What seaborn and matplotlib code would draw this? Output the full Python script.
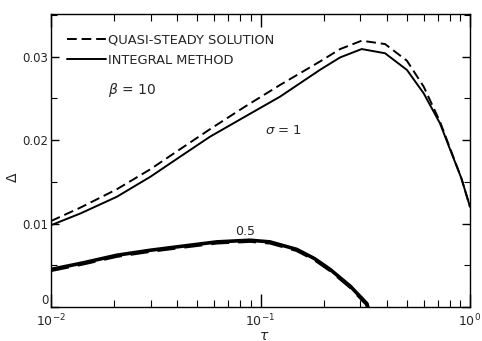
import numpy as np
import pandas as pd
import matplotlib
matplotlib.use("Agg")
import matplotlib.pyplot as plt
import matplotlib.ticker as mticker
import seaborn as sns

# ---- data ----
tau_s1 = [0.0100, 0.0138, 0.0206, 0.0298, 0.0413, 0.0574, 0.0843, 0.124,
          0.192, 0.240, 0.304, 0.393, 0.500, 0.601, 0.719, 0.832, 0.910, 1.0]
quasi_s1 = [0.0103, 0.0119, 0.0141, 0.0165, 0.0189, 0.0213, 0.0240, 0.0266,
            0.0294, 0.0309, 0.0319, 0.0315, 0.0295, 0.0264, 0.0222, 0.0180, 0.0154, 0.0120]
integ_s1 = [0.0098, 0.0112, 0.0132, 0.0156, 0.0180, 0.0204, 0.0228, 0.0252,
            0.0284, 0.0299, 0.0309, 0.0304, 0.0284, 0.0256, 0.0220, 0.0179, 0.0154, 0.0120]

tau_s05 = [0.0100, 0.0143, 0.0206, 0.0298, 0.0428, 0.0618, 0.0892, 0.111,
           0.149, 0.181, 0.215, 0.268, 0.322, 0.325]
quasi_s05 = [0.0044, 0.0052, 0.0061, 0.0067, 0.0072, 0.0077, 0.0079, 0.0077,
             0.0068, 0.0057, 0.0044, 0.0024, 0.0003, 0.0]
integ_s05 = [0.0045, 0.0053, 0.0062, 0.0068, 0.0073, 0.0078, 0.0080, 0.0078,
             0.0069, 0.0058, 0.0045, 0.0025, 0.0004, 0.0]

legend_labels = ["QUASI-STEADY SOLUTION", "INTEGRAL METHOD"]
y_ticks = [0, 0.01, 0.02, 0.03]
y_ticklabels = ["0", "0.01", "0.02", "0.03"]
x_ticks = [0.01, 0.1, 1.0]
x_ticklabels = [r"$10^{-2}$", r"$10^{-1}$", r"$10^{0}$"]
x_minor = [m * d for d in (0.01, 0.1) for m in range(2, 10)]

sns.set_style("ticks")
plt.rcParams["font.family"] = ["DejaVu Sans"]

fig = plt.figure(figsize=(4.82, 3.41), dpi=100)
ax = fig.add_axes([51/482, 1-307/341, 419/482, 293/341])

kw = dict(color="black", ax=ax, legend=False)
sns.lineplot(x=tau_s1, y=quasi_s1, linestyle=(0, (5, 2.5)), linewidth=1.4, **kw)
sns.lineplot(x=tau_s1, y=integ_s1, linestyle="-", linewidth=1.4, **kw)
sns.lineplot(x=tau_s05, y=quasi_s05, linestyle=(0, (5, 2.5)), linewidth=2.6, **kw)
sns.lineplot(x=tau_s05, y=integ_s05, linestyle="-", linewidth=2.6, **kw)

ax.set_xscale("log")
ax.set_xlim(0.01, 1.0)
ax.set_ylim(0, 0.0351)

ax.xaxis.set_major_locator(mticker.FixedLocator(x_ticks))
ax.xaxis.set_major_formatter(mticker.FixedFormatter(x_ticklabels))
ax.xaxis.set_minor_locator(mticker.FixedLocator(x_minor))
ax.xaxis.set_minor_formatter(mticker.NullFormatter())
ax.set_yticks(y_ticks)
ax.set_yticklabels(y_ticklabels, fontsize=8.5)
ax.set_yticks([0.005, 0.015, 0.025, 0.035], minor=True)
for lab in ax.get_yticklabels():
    if lab.get_text() == "0":
        lab.set_verticalalignment("bottom")

ax.tick_params(which="both", direction="in", top=True, right=True, color="black")
ax.tick_params(axis="x", which="major", length=9.5, width=1, pad=4, labelsize=9)
ax.tick_params(axis="x", which="minor", length=5, width=0.8)
ax.tick_params(axis="y", which="major", length=6, width=1, pad=2)
ax.tick_params(axis="y", which="minor", length=4, width=0.8)
for s in ax.spines.values():
    s.set_linewidth(1.0)
    s.set_color("black")

ax.set_xlabel(r"$\tau$", fontsize=10)
ax.xaxis.set_label_coords(0.508, -0.076)
ax.set_ylabel("\u0394", fontsize=10)
ax.yaxis.set_label_coords(-0.075, 0.444)

lines = ax.get_lines()[:2]
ax.legend(lines, legend_labels, loc="upper left", bbox_to_anchor=(0.025, 0.95),
          frameon=False, handlelength=3.0, handletextpad=0.2, labelspacing=0.55,
          fontsize=9.4, borderaxespad=0)

ax.text(0.135, 0.74, r"$\beta$ = 10", transform=ax.transAxes, fontsize=10,
        ha="left", va="center")
ax.text(0.105, 0.0212, r"$\sigma$ = 1", fontsize=9.5, ha="left", va="center")
ax.text(0.0843, 0.0090, "0.5", fontsize=9, ha="center", va="center")

fig.savefig("out.png", dpi=100)
